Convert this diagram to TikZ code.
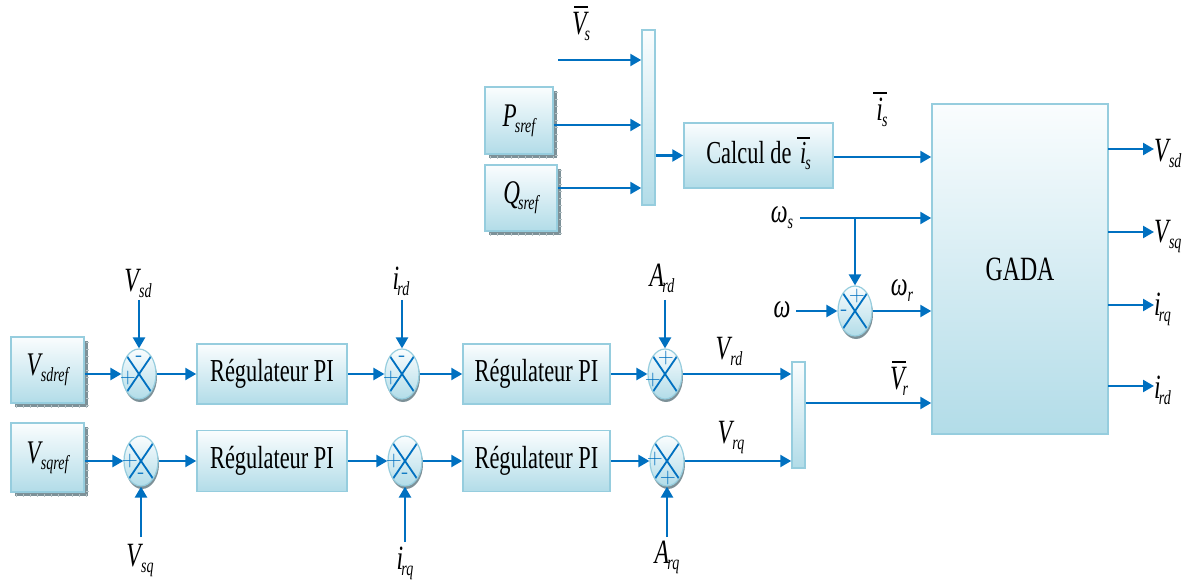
\documentclass[tikz,border=0pt]{standalone}
\usepackage{fontspec}
\setmainfont{Liberation Serif}[FakeStretch=0.70]
\usetikzlibrary{arrows.meta,shapes.geometric,shadows}
\definecolor{ablue}{RGB}{0,112,192}
\definecolor{bdr}{RGB}{150,205,222}
\definecolor{ftop}{RGB}{250,253,254}
\definecolor{fbot}{RGB}{178,220,232}
\definecolor{shad}{RGB}{125,145,152}
\newcommand\sbs[1]{\raisebox{-6pt}{\fontsize{20}{20}\selectfont\itshape #1}}
\newcommand\mylab[2]{\textit{#1}\kern-2pt\sbs{#2}}
\newcommand\barred[2]{\leavevmode\hbox{\ooalign{\itshape #1\cr\hidewidth\kern#2\rule[0.78em]{0.42em}{1.3pt}\hidewidth\cr}}}
\newcommand\reffont{\fontsize{33}{34}\selectfont}
\tikzset{
  blk/.style={draw=bdr, line width=1.5pt, top color=ftop, bottom color=fbot, inner sep=0pt, font=\fontsize{32}{33}\selectfont},
  sblk/.style={blk, drop shadow={shadow xshift=4pt, shadow yshift=-4pt, fill=shad, opacity=1}},
  sumn/.style={ellipse, draw=bdr, line width=1.2pt, top color=ftop, bottom color=fbot,
    minimum width=34pt, minimum height=50pt, inner sep=0pt,
    drop shadow={shadow xshift=1pt, shadow yshift=-3pt, fill=shad, opacity=1},
    path picture={\draw[ablue, line width=1.8pt]
      (path picture bounding box.north west) -- (path picture bounding box.south east)
      (path picture bounding box.north east) -- (path picture bounding box.south west);}},
  sgn/.style={text=ablue, font=\fontsize{22}{22}\selectfont\sffamily, inner sep=0pt},
  conn/.style={ablue, line width=2.4pt, -{Triangle[length=11pt,width=12pt]}},
  tickl/.style={draw=white!45!shad, line width=3pt, dash pattern=on 1pt off 6pt},
  lbl/.style={font=\fontsize{34}{35}\selectfont, inner sep=0pt},
}
\newcommand\shticks[1]{%
  \draw[tickl] ([shift={(6,2.5)}]#1.south west) -- ([shift={(2.5,2.5)}]#1.south east);
  \draw[tickl] ([shift={(2.5,6)}]#1.north east) -- ([shift={(2.5,2.5)}]#1.south east);}
\begin{document}
\begin{tikzpicture}[x=1pt,y=-1pt]
\useasboundingbox (0,0) rectangle (1187,588);
% top part
\node[blk, minimum width=13pt, minimum height=175pt] (bar1) at (648.5,117.5) {};
\node[sblk, minimum width=68pt, minimum height=67pt] (psref) at (519,120.5) {\reffont\mylab{P}{sref}};
\node[sblk, minimum width=72pt, minimum height=66pt] (qsref) at (521,198) {\reffont\mylab{Q}{sref}};
\shticks{psref}
\shticks{qsref}
\node[lbl] (vsbar) at (581,26) {\barred{V}{4pt}\kern-2pt\sbs{s}};
\coordinate (vsin) at (558,60);
\draw[conn] (vsin) -- (bar1.west |- vsin);
\coordinate (pin) at (648,125);
\coordinate (qin) at (648,188);
\draw[conn] (psref.east |- pin) -- (bar1.west |- pin);
\draw[conn] (qsref.east |- qin) -- (bar1.west |- qin);
\node[blk, minimum width=149pt, minimum height=65pt] (calc) at (758.5,155.5) {Calcul de \kern3pt\barred{i}{1pt}\kern-1pt\sbs{s}};
\draw[conn] (bar1.east |- calc) -- (calc.west);
\node[blk, minimum width=176pt, minimum height=330pt, font=\fontsize{34}{35}\selectfont] (gada) at (1020,269) {GADA};
\coordinate (isy) at (900,157);
\draw[conn] (calc.east |- isy) -- (gada.west |- isy);
\node[lbl] (islab) at (882,112) {\barred{i}{1pt}\kern-1pt\sbs{s}};
% omega
\node[lbl] (wslab) at (782,218) {\textit{ω}\kern0pt\sbs{s}};
\coordinate (wsin) at (800,218);
\draw[conn] (wsin) -- (gada.west |- wsin);
\node[sumn] (sw) at (855,311) {};
\coordinate (wsj) at (855,218);
\draw[conn] (wsj) -- (sw.north);
\node[lbl] (wlab) at (782,310) {\textit{ω}};
\coordinate (win) at (796,311);
\draw[conn] (win) -- (sw.west);
\draw[conn] (sw.east) -- (gada.west |- sw.east);
\node[lbl] (wrlab) at (902,291) {\textit{ω}\kern0pt\sbs{r}};
\node[sgn] (swt) at (857,296) {+};
\node[sgn] (swl) at (844,313) {-};
% outputs
\foreach \yy/\nm/\sb [count=\k] in {149/V/sd,232/V/sq,305/i/rq,386/i/rd}{
  \coordinate (out\k) at (1108,\yy);
  \node[lbl, anchor=west] (ol\k) at (1154,\yy+4) {\mylab{\nm}{\sb}};
  \draw[conn] (out\k) -- (ol\k.west |- out\k);
}
% rows
\node[sblk, minimum width=73pt, minimum height=66pt] (vsdref) at (47.5,370) {\reffont\mylab{V}{sdref}};
\node[sblk, minimum width=73pt, minimum height=69pt] (vsqref) at (47.5,457.5) {\reffont\mylab{V}{sqref}};
\shticks{vsdref}
\shticks{vsqref}
\node[sumn] (s11) at (139,374) {};
\node[sumn] (s12) at (402,374) {};
\node[sumn] (s13) at (665,374) {};
\node[sumn] (s21) at (141,461) {};
\node[sumn] (s22) at (405,461) {};
\node[sumn] (s23) at (667,461) {};
\node[blk, minimum width=150pt, minimum height=60pt] (r11) at (272,374) {Régulateur PI};
\node[blk, minimum width=147pt, minimum height=60pt] (r12) at (536.5,374) {Régulateur PI};
\node[blk, minimum width=150pt, minimum height=61pt] (r21) at (272,461) {Régulateur PI};
\node[blk, minimum width=147pt, minimum height=61pt] (r22) at (536.5,461) {Régulateur PI};
\node[blk, minimum width=13pt, minimum height=106pt] (bar2) at (798.5,415) {};
% signs
\node[sgn] (s11t) at (139,359) {-};
\node[sgn] (s11l) at (128,378) {+};
\node[sgn] (s12t) at (402,359) {-};
\node[sgn] (s12l) at (391,378) {+};
\node[sgn] (s13t) at (666,358) {+};
\node[sgn] (s13l) at (653,380) {+};
\node[sgn] (s21l) at (130,461) {+};
\node[sgn] (s21b) at (141,476) {-};
\node[sgn] (s22l) at (394,461) {+};
\node[sgn] (s22b) at (405,476) {-};
\node[sgn] (s23l) at (655,459) {+};
\node[sgn] (s23b) at (668,478) {+};
% row 1
\draw[conn] (vsdref.east |- s11) -- (s11.west);
\draw[conn] (s11.east) -- (r11.west |- s11);
\draw[conn] (r11.east |- s12) -- (s12.west);
\draw[conn] (s12.east) -- (r12.west |- s12);
\draw[conn] (r12.east |- s13) -- (s13.west);
\draw[conn] (s13.east) -- (bar2.west |- s13);
% row 2
\draw[conn] (vsqref.east |- s21) -- (s21.west);
\draw[conn] (s21.east) -- (r21.west |- s21);
\draw[conn] (r21.east |- s22) -- (s22.west);
\draw[conn] (s22.east) -- (r22.west |- s22);
\draw[conn] (r22.east |- s23) -- (s23.west);
\draw[conn] (s23.east) -- (bar2.west |- s23);
\coordinate (vry) at (850,403);
\draw[conn] (bar2.east |- vry) -- (gada.west |- vry);
\node[lbl] (vrlab) at (729,351) {\mylab{V}{rd}};
\node[lbl] (vqlab) at (731,437) {\mylab{V}{rq}};
\node[lbl] (vrbar) at (899,381) {\barred{V}{4pt}\kern-2pt\sbs{r}};
% vertical inputs
\node[lbl] (vsdl) at (138,283) {\mylab{V}{sd}};
\coordinate (vsdin) at (139,300);
\draw[conn] (vsdin) -- (s11.north);
\node[lbl] (irdl) at (401,281) {\mylab{i}{rd}};
\coordinate (irdin) at (402,300);
\draw[conn] (irdin) -- (s12.north);
\node[lbl] (ardl) at (662,278) {\mylab{A}{rd}};
\coordinate (ardin) at (665,300);
\draw[conn] (ardin) -- (s13.north);
\node[lbl] (vsql) at (140,560) {\mylab{V}{sq}};
\coordinate (vsqin) at (141,537);
\draw[conn] (vsqin) -- (s21.south);
\node[lbl] (irql) at (405,563) {\mylab{i}{rq}};
\coordinate (irqin) at (405,542);
\draw[conn] (irqin) -- (s22.south);
\node[lbl] (arql) at (667,557) {\mylab{A}{rq}};
\coordinate (arqin) at (667,537);
\draw[conn] (arqin) -- (s23.south);
\end{tikzpicture}
\end{document}
